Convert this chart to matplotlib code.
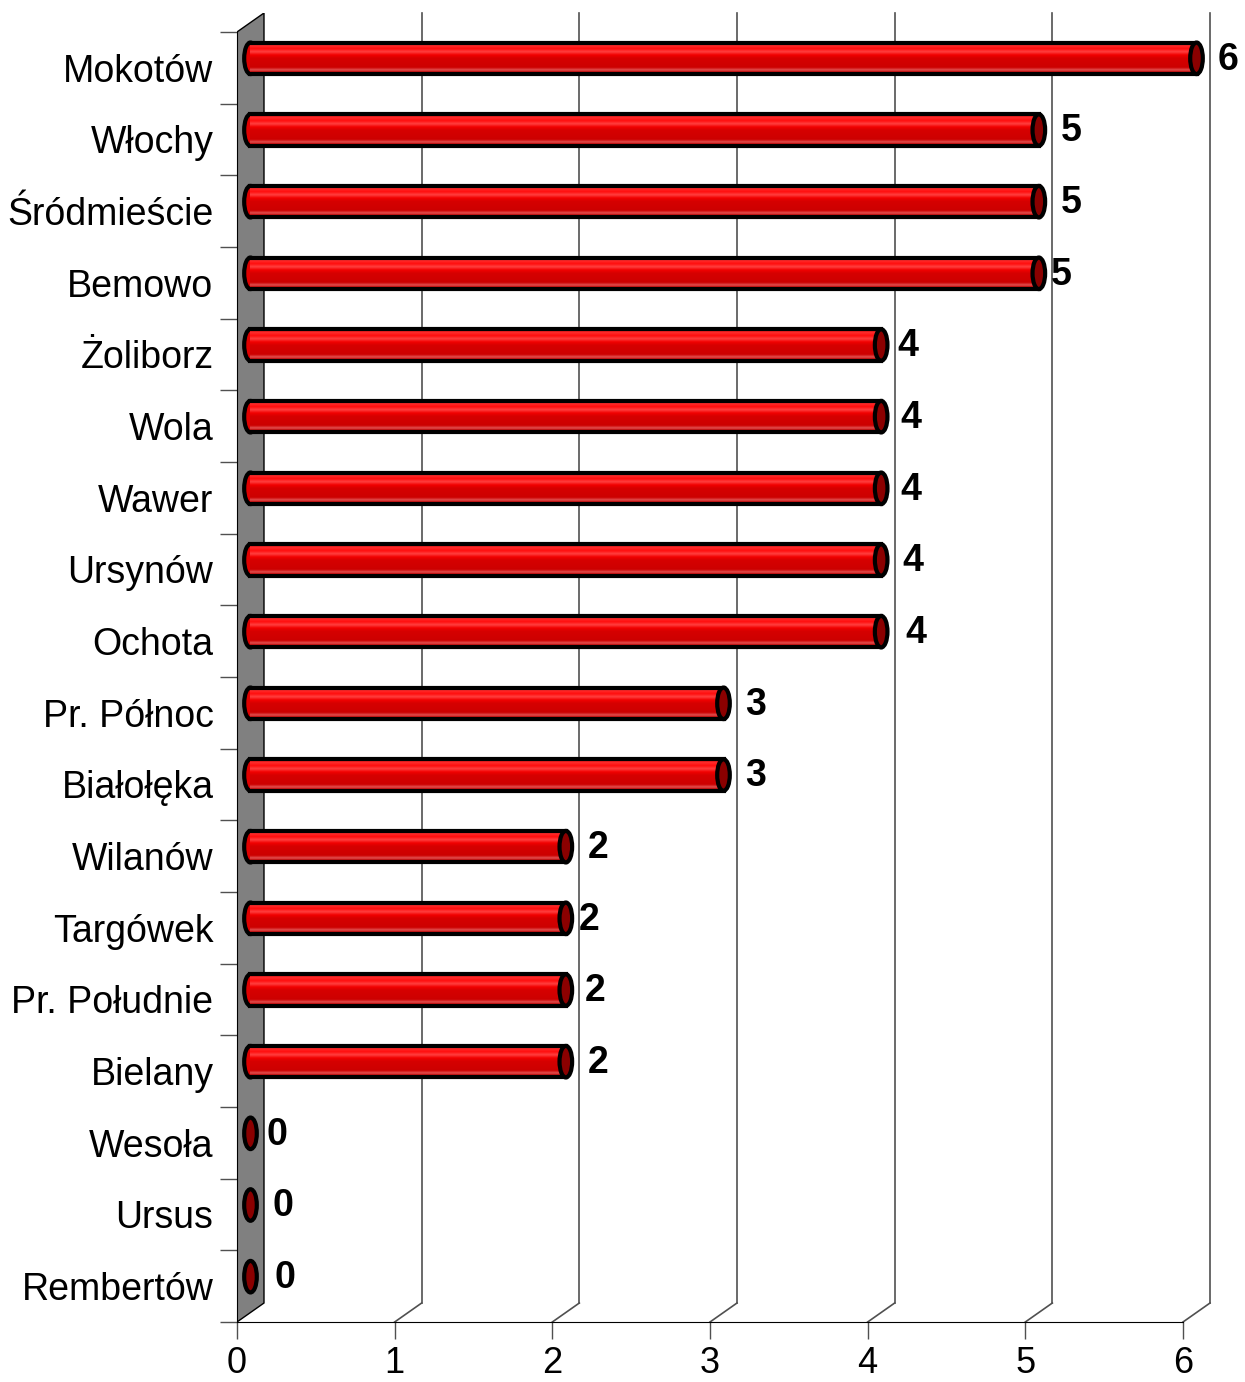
import numpy as np
import matplotlib.pyplot as plt
from matplotlib.patches import Ellipse, Polygon
from matplotlib.colors import LinearSegmentedColormap

# -------------------------------
# Data
# -------------------------------
districts = ["Mokotów", "Włochy", "Śródmieście", "Bemowo", "Żoliborz", "Wola",
             "Wawer", "Ursynów", "Ochota", "Pr. Północ", "Białołęka", "Wilanów",
             "Targówek", "Pr. Południe", "Bielany", "Wesoła", "Ursus", "Rembertów"]
counts = [6, 5, 5, 5, 4, 4, 4, 4, 4, 3, 3, 2, 2, 2, 2, 0, 0, 0]
xticks = [0, 1, 2, 3, 4, 5, 6]

# label nudges (points) to mimic the original's uneven label placement
label_gap = [11, 11, 11, 4, 7, 9, 9, 11, 13, 11, 11, 11, 5, 9, 11, 7, 11, 13]

plt.rcParams['font.family'] = ['Liberation Sans', 'DejaVu Sans']

n = len(districts)
depth_x = 0.1712      # 3d depth, in value units
depth_y = 0.265       # 3d depth, in category units
cap_w = 0.08          # end-cap ellipse width
bar_h = 0.44
edge_lw = 3

fig = plt.figure(figsize=(12.45, 13.82), dpi=100)
ax = fig.add_axes([237 / 1245, 60 / 1382, 973 / 1245, 1309 / 1382])

# -------------------------------
# 3D frame: side wall, gridlines
# -------------------------------
wall = Polygon([(0, 0), (depth_x, -depth_y), (depth_x, n - depth_y), (0, n)],
               closed=True, facecolor="#808080", edgecolor="black", lw=1, zorder=1)
ax.add_patch(wall)
for k in xticks[1:]:
    ax.plot([k + depth_x, k + depth_x], [-depth_y, n - depth_y], color="#505050",
            lw=1.2, zorder=0, clip_on=False)
    ax.plot([k, k + depth_x], [n, n - depth_y], color="#505050", lw=1.2, zorder=0,
            clip_on=False)

# -------------------------------
# Cylinder bars
# -------------------------------
grad = LinearSegmentedColormap.from_list("cyl", [
    (0.00, (0.88, 0.00, 0.00)),
    (0.10, (1.00, 0.18, 0.18)),
    (0.20, (1.00, 0.05, 0.05)),
    (0.30, (1.00, 0.25, 0.25)),
    (0.40, (0.95, 0.00, 0.00)),
    (0.50, (0.84, 0.00, 0.00)),
    (0.80, (0.80, 0.00, 0.00)),
    (0.88, (0.88, 0.32, 0.32)),
    (0.95, (0.78, 0.00, 0.00)),
    (1.00, (0.70, 0.00, 0.00))])
gimg = np.linspace(0, 1, 64).reshape(-1, 1)

for i, (name, v) in enumerate(zip(districts, counts)):
    yc = i + 0.5 - depth_y / 2
    x0 = depth_x / 2
    x1 = v + depth_x / 2
    if v > 0:
        ax.add_patch(Ellipse((x0, yc), cap_w, bar_h, facecolor="#e00000",
                             edgecolor="black", lw=edge_lw, zorder=3))
        ax.imshow(gimg, cmap=grad, aspect="auto", interpolation="bilinear",
                  extent=[x0, x1, yc + bar_h / 2, yc - bar_h / 2], zorder=4)
        ax.plot([x0, x1], [yc - bar_h / 2, yc - bar_h / 2], color="black", lw=edge_lw, zorder=5)
        ax.plot([x0, x1], [yc + bar_h / 2, yc + bar_h / 2], color="black", lw=edge_lw, zorder=5)
    ax.add_patch(Ellipse((x1, yc), cap_w, bar_h, facecolor="#8b0000",
                         edgecolor="black", lw=edge_lw, zorder=6))
    ax.annotate(str(v), (x1 + cap_w / 2, yc), xytext=(label_gap[i], -1),
                textcoords="offset points", ha="left", va="center",
                fontsize=27, fontweight="bold", zorder=7)

ax.set_xlim(0, xticks[-1] + depth_x)
ax.set_ylim(n, -depth_y)

# -------------------------------
# Axes
# -------------------------------
for s in ["top", "right"]:
    ax.spines[s].set_visible(False)
ax.spines["bottom"].set_bounds(0, xticks[-1])
ax.spines["left"].set_bounds(0, n)
ax.spines["bottom"].set_zorder(8)
ax.spines["left"].set_zorder(8)

ax.set_xticks(xticks)
ax.set_xticklabels([str(t) for t in xticks], fontsize=26)
ax.tick_params(axis="x", length=12, width=1, pad=5, color="#505050")

ax.set_yticks(np.arange(n + 1))
ax.set_yticklabels([])
ax.tick_params(axis="y", which="major", length=12, width=1, color="#505050")
ax.set_yticks(np.arange(n) + 0.5, minor=True)
ax.set_yticklabels(districts, minor=True, fontsize=27)
ax.tick_params(axis="y", which="minor", length=0, pad=17)

fig.savefig("out.png", dpi=100)
